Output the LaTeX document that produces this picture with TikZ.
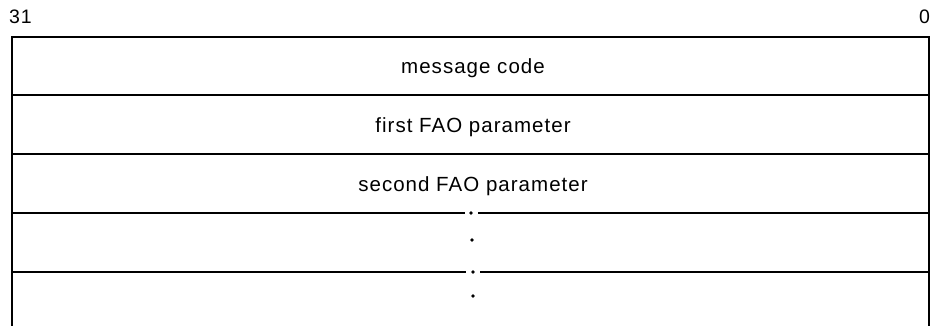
\documentclass[tikz,border=0pt]{standalone}
\usepackage{fontspec}
\setmainfont{Liberation Sans}[LetterSpace=5]
\begin{document}
\begin{tikzpicture}[x=1pt,y=-1pt,
  rule/.style={line width=1.8pt},
  lbl/.style={font=\fontsize{20.5}{24}\selectfont, anchor=base, inner sep=0pt},
  bitno/.style={font=\fontsize{19.5}{23}\selectfont, anchor=base, inner sep=0pt},
  dotmark/.style={circle, fill=black, inner sep=0pt, minimum size=3.8pt}]
\useasboundingbox (0,0) rectangle (935,326);
% corners
\coordinate (tl) at (12,37);
\coordinate (tr) at (929,37);
\coordinate (bl) at (12,326);
\coordinate (br) at (929,326);
\coordinate (l1) at (12,95);   \coordinate (r1) at (929,95);
\coordinate (l2) at (12,154);  \coordinate (r2) at (929,154);
\coordinate (l3) at (12,213);  \coordinate (r3) at (929,213);
\coordinate (l4) at (12,272);  \coordinate (r4) at (929,272);
\coordinate (g3a) at (465,213); \coordinate (g3b) at (478,213);
\coordinate (g4a) at (466,272); \coordinate (g4b) at (480,272);
% bit numbers
\node[bitno] (hi) at (20.5,24) {31};
\node[bitno] (lo) at (924.5,24) {0};
% frame
\draw[rule] (bl) -- (tl) -- (tr) -- (br);
\draw[rule] (l1) -- (r1);
\draw[rule] (l2) -- (r2);
\draw[rule] (l3) -- (g3a);
\draw[rule] (g3b) -- (r3);
\draw[rule] (l4) -- (g4a);
\draw[rule] (g4b) -- (r4);
% texts
\node[lbl] (msg) at (473,74) {message code};
\node[lbl] (p1) at (473,132.5) {first FAO parameter};
\node[lbl] (p2) at (473,192) {second FAO parameter};
% ellipsis dots
\node[dotmark] (d1) at (471,213) {};
\node[dotmark] (d2) at (472,240) {};
\node[dotmark] (d3) at (473,272) {};
\node[dotmark] (d4) at (473,296) {};
\end{tikzpicture}
\end{document}
